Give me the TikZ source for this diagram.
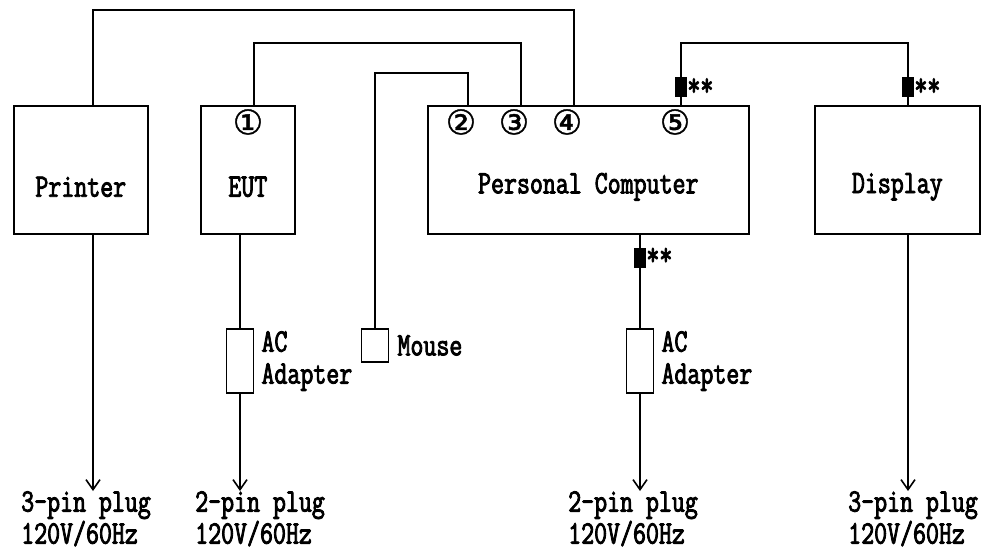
\documentclass[tikz,border=0pt]{standalone}
\usepackage{fontspec}
\usepackage{tikz}
\usetikzlibrary{positioning,arrows.meta}
\newfontfamily\diagfont[FakeStretch=0.77,FakeBold=2.6]{Latin Modern Mono}
\newfontfamily\numfont[FakeBold=1.2]{DejaVu Sans}

\begin{document}
\begin{tikzpicture}[
    x=1pt, y=-1pt,
    font=\diagfont\fontsize{32.7pt}{32pt}\selectfont,
    unit/.style={draw, line width=1.6pt, minimum height=128pt, inner sep=0pt, anchor=north west},
    lbl/.style={inner sep=0pt},
    portnum/.style={font=\numfont\fontsize{34pt}{34pt}\selectfont, inner sep=0pt},
    adapter/.style={draw, line width=1.6pt, minimum width=27pt, minimum height=64pt, inner sep=0pt},
    ferrite/.style={fill=black, minimum width=12pt, minimum height=20pt, inner sep=0pt},
    cable/.style={line width=1.6pt},
    arrow/.style={cable, -{Straight Barb[length=10pt, width=14pt, line width=1.6pt]}},
    plug/.style={align=left, anchor=north west, inner sep=0pt}
]
\path[use as bounding box, fill=white] (0,0) rectangle (992,551);

\node[unit, minimum width=134pt] (printer) at (13,105) {};
\node[unit, minimum width=94pt] (eut) at (200,105) {};
\node[unit, minimum width=321pt] (pc) at (427,105) {};
\node[unit, minimum width=165pt] (display) at (814,105) {};

\node[lbl] (printer-t) at ([yshift=-17pt]printer.center) {Printer};
\node[lbl] (eut-t) at ([yshift=-17pt]eut.center) {EUT};
\node[lbl] (pc-t) at ([yshift=-17pt]pc.center) {Personal Computer};
\node[lbl] (display-t) at ([yshift=-17pt]display.center) {Display};

\coordinate (prt) at (93,105);
\coordinate (p1) at (254,105);
\coordinate (p2) at (468,105);
\coordinate (p3) at (521,105);
\coordinate (p4) at (574,105);
\coordinate (p5) at (681,105);
\coordinate (dp) at (908,105);

\node[portnum] (n1) at (248,122) {①};
\node[portnum] (n2) at (461,122) {②};
\node[portnum] (n3) at (514,122) {③};
\node[portnum] (n4) at (567,122) {④};
\node[portnum] (n5) at (675,122) {⑤};

\node[draw, cable, minimum width=27pt, minimum height=33pt, inner sep=0pt] (mouse) at (375,345.5) {};
\node[lbl, right=8pt of mouse] (mouse-t) {Mouse};

\node[adapter] (eutac) at (240,361) {};
\node[lbl, align=left, right=7pt of eutac] (eutac-t) {AC\\Adapter};
\node[adapter] (pcac) at (640,361) {};
\node[lbl, align=left, right=7pt of pcac] (pcac-t) {AC\\Adapter};

\node[plug] (plug1) at (21,491) {3-pin plug\\120V/60Hz};
\node[plug] (plug2) at (195,491) {2-pin plug\\120V/60Hz};
\node[plug] (plug3) at (568,491) {2-pin plug\\120V/60Hz};
\node[plug] (plug4) at (848,491) {3-pin plug\\120V/60Hz};

\draw[cable] (prt) -- ++(0,-95) -| (p4);
\draw[cable] (p1) -- ++(0,-62) -| (p3);
\draw[cable] (mouse.north) -- ++(0,-255) -| (p2);
\draw[cable] (p5) -- ++(0,-62) -| (dp);

\draw[arrow] (printer.south -| prt) -- (plug1.north -| prt);
\draw[cable] (eut.south -| eutac) -- (eutac.north);
\draw[arrow] (eutac.south) -- (plug2.north -| eutac);
\draw[cable] (pc.south -| pcac) -- (pcac.north);
\draw[arrow] (pcac.south) -- (plug3.north -| pcac);
\draw[arrow] (display.south -| dp) -- (plug4.north -| dp);

\node[ferrite] (pcfa) at (681,87) {};
\node[ferrite] (dispf) at (908,87) {};
\node[ferrite] (pcfb) at (640,258) {};
\node[lbl, anchor=west] (pcfa-s) at (pcfa.east) {**};
\node[lbl, anchor=west] (dispf-s) at (dispf.east) {**};
\node[lbl, anchor=north west] (pcfb-s) at (pcfb.north east) {**};
\end{tikzpicture}
\end{document}
